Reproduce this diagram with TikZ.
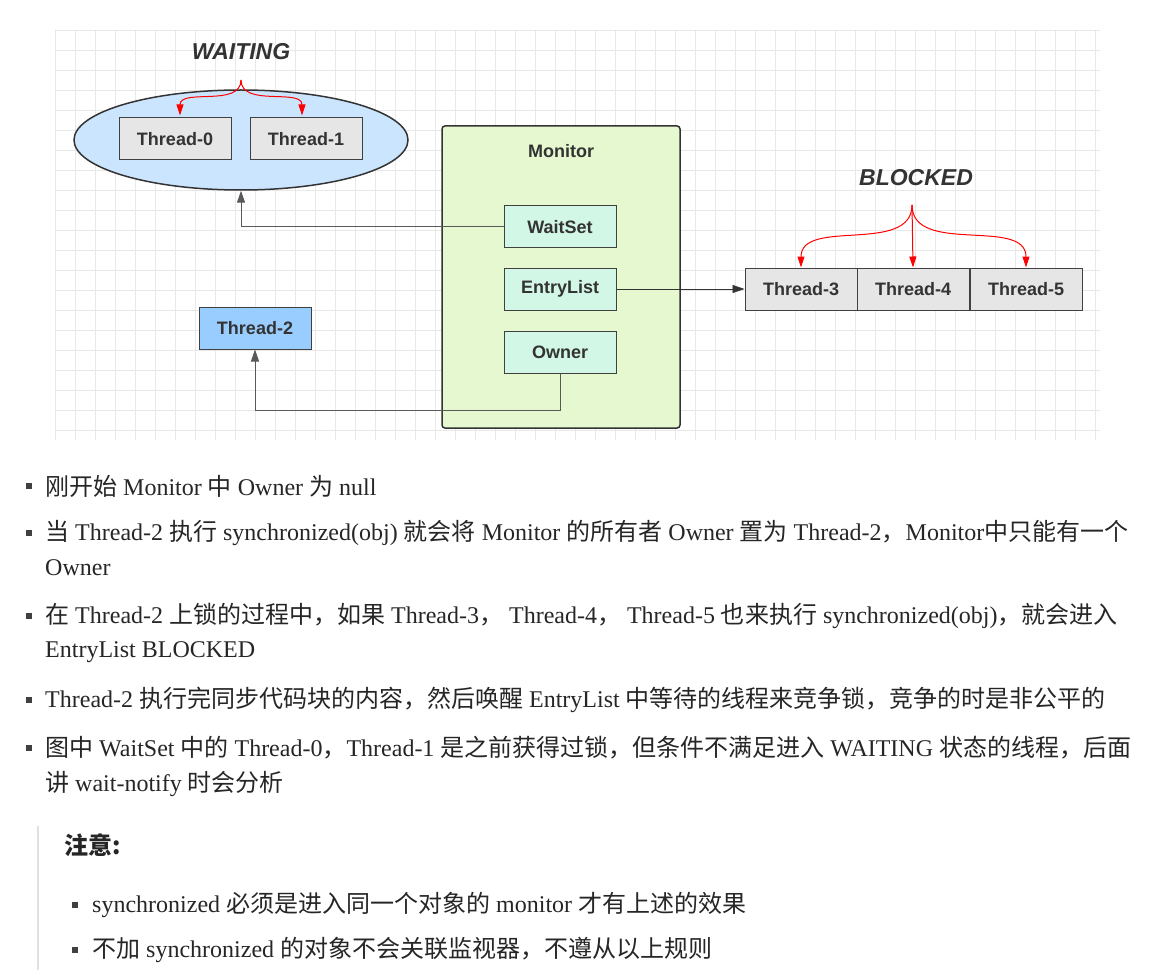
\documentclass[tikz,border=0pt]{standalone}
\usepackage{fontspec}
\setmainfont{Liberation Serif}
\newfontfamily\cjk{Noto Sans CJK SC}
\newfontfamily\lab{Liberation Sans}
\newcommand\zh[1]{{\cjk #1}}
\usetikzlibrary{arrows.meta,shapes.geometric,calc}
\definecolor{gridc}{HTML}{E8E8E8}
\definecolor{ellc}{HTML}{CCE5FF}
\definecolor{monc}{HTML}{E6F8CF}
\definecolor{subc}{HTML}{D2F7E6}
\definecolor{t2c}{HTML}{99CCFF}
\definecolor{greyc}{HTML}{E6E6E6}
\tikzset{
 x=1pt,y=-1pt,
 thr/.style={draw=black!75,line width=1pt,minimum width=112pt,minimum height=42pt,font=\lab\fontsize{18}{20}\bfseries\selectfont,text=black!80,inner sep=0},
 conn/.style={draw=black!65,line width=1pt,-{Triangle[length=12pt,width=8pt]}},
 red/.style={draw=red,line width=1pt,-{Triangle[length=11pt,width=7pt]}},
 para/.style={anchor=west,font=\fontsize{24}{26}\selectfont,text=black!85,inner sep=0},
 bul/.style={fill=black!75,minimum size=6pt,inner sep=0},
}
\begin{document}
\begin{tikzpicture}
\useasboundingbox (0,0) rectangle (1158,976);
\fill[white] (0,0) rectangle (1158,976);
\foreach \i in {0,...,52} \draw[gridc,line width=0.7pt] (55+20*\i,30)--(55+20*\i,440);
\foreach \j in {0,...,20} \draw[gridc,line width=0.7pt] (55,30+20*\j)--(1100,30+20*\j);
% waiting
\node (wt) at (241,52) {\lab\fontsize{23}{24}\bfseries\itshape\color{black!80}WAITING};
\node[ellipse,draw=black!80,line width=1.5pt,fill=ellc,minimum width=334pt,minimum height=100pt] (ell) at (241,140) {};
\node[thr,fill=greyc] (t0) at (175,139) {Thread-0};
\node[thr,fill=greyc] (t1) at (306,139) {Thread-1};
\coordinate (wf) at (241,80);
\draw[red] (wf) to[out=-90,in=90] ($(t0.north)+(5,-2)$);
\draw[red] (wf) to[out=-90,in=90] ($(t1.north)+(-4,-2)$);
% monitor
\node[draw=black!80,line width=1.5pt,rounded corners=3pt,fill=monc,minimum width=238pt,minimum height=302pt] (mon) at (561,277) {};
\node[font=\lab\fontsize{18}{20}\bfseries\selectfont,text=black!80] (mt) at (561,151) {Monitor};
\node[thr,fill=subc] (ws) at (560,227) {WaitSet};
\node[thr,fill=subc] (el) at (560,289) {EntryList};
\node[thr,fill=subc] (ow) at (560,352) {Owner};
\node[thr,fill=t2c] (t2) at (255,328) {Thread-2};
\node[thr,fill=greyc] (t3) at (801,289) {Thread-3};
\node[thr,fill=greyc] (t4) at (913,289) {Thread-4};
\node[thr,fill=greyc] (t5) at (1026,289) {Thread-5};
\node (bl) at (916,178) {\lab\fontsize{23}{24}\bfseries\itshape\color{black!80}BLOCKED};
\coordinate (bf) at (912,205);
\draw[red] (bf) to[out=-90,in=90] (t3.north);
\draw[red] (bf) -- (t4.north);
\draw[red] (bf) to[out=-90,in=90] (t5.north);
\draw[conn] (ws.west) -| (ell.south);
\draw[conn] (ow.south) |- (255,410) -- (t2.south);
\draw[conn,draw=black!80,line width=0.8pt] (el.east) -- (t3.west);
% text
\foreach \y in {486,533,616,700,748} \node[bul] at (29,\y) {};
\node[para] at (45,486) {\zh{刚开始} Monitor \zh{中} Owner \zh{为} null};
\node[para] at (45,533) {\zh{当} Thread-2 \zh{执行} synchronized(obj) \zh{就会将} Monitor \zh{的所有者} Owner \zh{置为} Thread-2\zh{，}Monitor\zh{中只能有一个}};
\node[para] at (45,568) {Owner};
\node[para] at (45,616) {\zh{在} Thread-2 \zh{上锁的过程中，如果} Thread-3\zh{，} Thread-4\zh{，} Thread-5 \zh{也来执行} synchronized(obj)\zh{，就会进入}};
\node[para] at (45,652) {EntryList BLOCKED};
\node[para] at (45,700) {Thread-2 \zh{执行完同步代码块的内容，然后唤醒} EntryList \zh{中等待的线程来竞争锁，竞争的时是非公平的}};
\node[para] at (45,748) {\zh{图中} WaitSet \zh{中的} Thread-0\zh{，}Thread-1 \zh{是之前获得过锁，但条件不满足进入} WAITING \zh{状态的线程，后面}};
\node[para] at (45,784) {\zh{讲} wait-notify \zh{时会分析}};
\draw[black!12,line width=2pt] (38,826)--(38,970);
\node[para] at (64,845) {\cjk\bfseries 注意:};
\node[bul] at (75,905) {};
\node[bul] at (75,950) {};
\node[para] at (92,905) {synchronized \zh{必须是进入同一个对象的} monitor \zh{才有上述的效果}};
\node[para] at (92,950) {\zh{不加} synchronized \zh{的对象不会关联监视器，不遵从以上规则}};
\end{tikzpicture}
\end{document}
